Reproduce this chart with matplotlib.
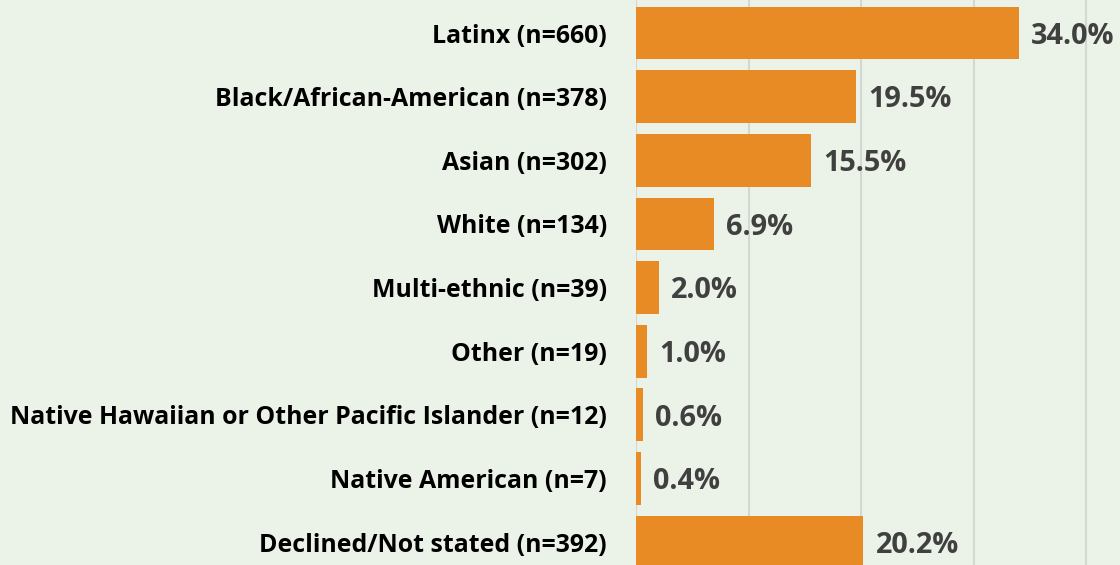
import matplotlib
matplotlib.use("Agg")
import matplotlib.pyplot as plt

# data
groups = ["Latinx (n=660)", "Black/African-American (n=378)", "Asian (n=302)",
          "White (n=134)", "Multi-ethnic (n=39)", "Other (n=19)",
          "Native Hawaiian or Other Pacific Islander (n=12)",
          "Native American (n=7)", "Declined/Not stated (n=392)"]
pcts = [34.0, 19.5, 15.5, 6.9, 2.0, 1.0, 0.6, 0.4, 20.2]

bg = "#EBF3E8"
bar_col = "#E88B24"

plt.rcParams['font.family'] = ['Open Sans', 'DejaVu Sans']

fig = plt.figure(figsize=(11.2, 5.65), dpi=100, facecolor=bg)
ax = fig.add_axes([0.568, 0.0, 0.432, 1.0])
ax.set_facecolor(bg)

ypos = list(range(len(groups)))
ax.barh(ypos, pcts, height=0.83, color=bar_col, zorder=3)

for y, v in zip(ypos, pcts):
    ax.text(v + 1.1, y + 0.05, f"{v:.1f}%", va="center", ha="left",
            fontsize=20.8, fontweight="bold", color="#404040", zorder=4)

ax.set_xlim(0, 43)
ax.set_ylim(8.36, -0.52)
ax.set_xticks([0, 10, 20, 30, 40])
ax.xaxis.grid(True, color="#D4D8D2", linewidth=1.5, zorder=0)
ax.tick_params(axis="x", length=0, labelbottom=False)
ax.set_yticks(ypos)
ax.set_yticklabels(groups, fontsize=17.9, fontweight="bold", color="black")
ax.tick_params(axis="y", length=0, pad=21)
for s in ax.spines.values():
    s.set_visible(False)
ax.axvline(0, color="#D4D8D2", linewidth=1.5, zorder=2)

fig.savefig("out.png", dpi=100, facecolor=bg)
